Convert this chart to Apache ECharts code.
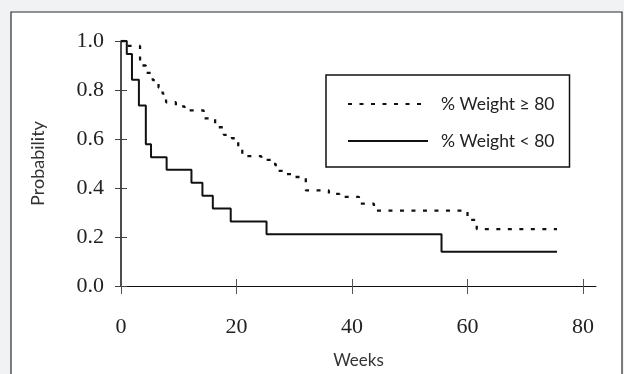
<!DOCTYPE html>
<html><head><meta charset="utf-8">
<script src="https://cdn.jsdelivr.net/npm/echarts@6/dist/echarts.min.js"></script>
<style>html,body{margin:0;padding:0;background:#f1f2f4;}#c{width:624px;height:374px;}</style>
</head><body><div id="c"></div>
<script>
const seriesNames = ['% Weight \u2265 80', '% Weight < 80'];
const weeksHigh = [0,1,3.3,4.3,5.5,6.5,7.2,7.8,9.5,11,14.3,16.3,17.8,19.2,20.3,21,24.3,26,26.8,28.5,30,32,36,37.8,41.2,43.8,60,61.6,75.5];
const probHigh = [1,0.98,0.90,0.87,0.84,0.81,0.785,0.75,0.733,0.717,0.684,0.648,0.617,0.603,0.567,0.53,0.515,0.498,0.47,0.457,0.445,0.39,0.376,0.364,0.336,0.308,0.27,0.232,0.232];
const weeksLow = [0,1,1.9,3.1,4.3,5.2,7.9,12.2,14.1,15.9,19,25.2,55.5,75.5];
const probLow = [1,0.947,0.842,0.737,0.579,0.526,0.474,0.421,0.368,0.316,0.263,0.211,0.140,0.140];
const xTicks = [0,20,40,60,80];
const yTicks = [0,0.2,0.4,0.6,0.8,1.0];

const chart = echarts.init(document.getElementById('c'), null, {renderer:'canvas'});
const serif = '"Liberation Serif","Times New Roman",serif';
const sans = 'Lato,"Liberation Sans",sans-serif';
const ink = '#111';
const grid = {left:121, right:28, top:41, bottom:85};
chart.setOption({
  backgroundColor:'#f1f2f4',
  animation:false,
  graphic:[{type:'rect', z:-10, shape:{x:11,y:12,width:611,height:400}, style:{fill:'#fff', stroke:'#2a2a2a', lineWidth:1.2}}],
  grid: grid,
  legend:{
    orient:'vertical', left:326, top:75,
    padding:[20,15,17,21], itemGap:19, itemWidth:80, itemHeight:14,
    borderColor:'#111', borderWidth:1.5, backgroundColor:'#fff',
    itemStyle:{opacity:0},
    textStyle:{fontFamily:sans, fontSize:17.5, color:'#222', padding:[0,0,0,8]},
    data:seriesNames
  },
  xAxis:[{
    type:'value', min:0, max:82.25,
    name:'Weeks', nameLocation:'middle', nameGap:66,
    nameTextStyle:{fontFamily:sans, fontSize:17, color:'#333'},
    axisLine:{lineStyle:{color:ink, width:1}},
    axisTick:{show:true, length:8, customValues:xTicks, lineStyle:{color:'#555'}},
    axisLabel:{customValues:xTicks, fontFamily:serif, fontSize:22, color:'#222', margin:30},
    splitLine:{show:false}
  },{
    type:'value', min:0, max:82.25, position:'bottom',
    axisLine:{show:false},
    axisTick:{show:true, inside:true, length:7, customValues:xTicks, lineStyle:{color:'#555'}},
    axisLabel:{show:false}, splitLine:{show:false}
  }],
  yAxis:[{
    type:'value', min:0, max:1, interval:0.2,
    name:'Probability', nameLocation:'middle', nameGap:74, nameRotate:90,
    nameTextStyle:{fontFamily:sans, fontSize:18, color:'#333'},
    axisLine:{show:true, lineStyle:{color:ink, width:1.5}},
    axisTick:{show:true, length:6, lineStyle:{color:'#444'}},
    axisLabel:{fontFamily:serif, fontSize:22, color:'#222', margin:17, formatter:v=>v.toFixed(1)},
    splitLine:{show:false}
  },{
    type:'value', min:0, max:1, interval:0.2, position:'left',
    axisLine:{show:false},
    axisTick:{show:true, inside:true, length:6, lineStyle:{color:'#444'}},
    axisLabel:{show:false}, splitLine:{show:false}
  }],
  series:[{
    name:seriesNames[0], type:'line', step:'end', symbol:'none',
    data:weeksHigh.map((w,i)=>[w,probHigh[i]]),
    lineStyle:{color:ink, width:2.3, type:[4,7.5]}, itemStyle:{color:ink}
  },{
    name:seriesNames[1], type:'line', step:'end', symbol:'none',
    data:weeksLow.map((w,i)=>[w,probLow[i]]),
    lineStyle:{color:ink, width:2}, itemStyle:{color:ink}
  }]
});
</script></body></html>
